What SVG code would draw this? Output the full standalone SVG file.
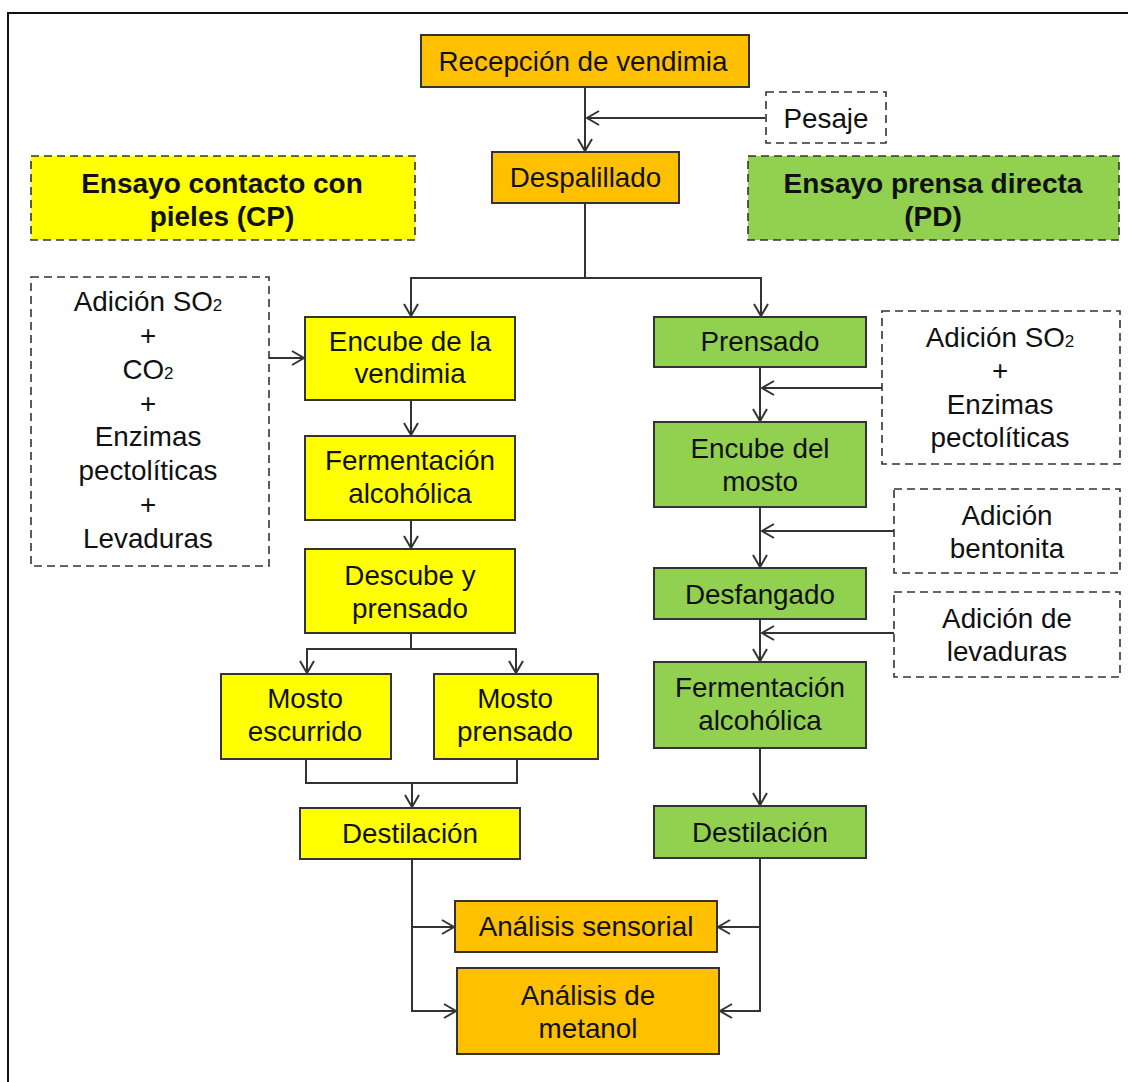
<svg xmlns="http://www.w3.org/2000/svg" width="1128" height="1082" viewBox="0 0 1128 1082">
<defs>
<marker id="arr" markerUnits="userSpaceOnUse" markerWidth="30" markerHeight="30" viewBox="-15 -15 30 30" refX="0" refY="0" orient="auto">
<path d="M-12,-7 L0,0 L-12,7" fill="none" stroke="#333" stroke-width="2"/>
</marker>
</defs>
<style>
text{font-family:"Liberation Sans",Arial,sans-serif;font-size:27.8px;fill:#111;text-anchor:middle}
.b{font-weight:bold;font-size:28px}
.box{stroke:#333;stroke-width:2}
.or{fill:#FFC000}
.ye{fill:#FFFF00}
.gr{fill:#92D050}
.dash{fill:#fff;stroke:#333;stroke-width:1.6;stroke-dasharray:8 5}
.dashy{fill:#FFFF00;stroke:#333;stroke-width:1.6;stroke-dasharray:8 5}
.dashg{fill:#92D050;stroke:#333;stroke-width:1.6;stroke-dasharray:8 5}
.c{fill:none;stroke:#333;stroke-width:2}
.sub{font-size:17px}
</style>
<rect width="1128" height="1082" fill="#fff"/>
<rect x="8" y="13" width="1140" height="1100" fill="none" stroke="#111" stroke-width="2"/>

<g id="connectors">
<path class="c" d="M585,87 V151" marker-end="url(#arr)"/>
<path class="c" d="M765,118 H587" marker-end="url(#arr)"/>
<path class="c" d="M585,203 V278 H411 V316" marker-end="url(#arr)"/>
<path class="c" d="M585,278 H761 V316" marker-end="url(#arr)"/>
<path class="c" d="M269,358 H304" marker-end="url(#arr)"/>
<path class="c" d="M411,400 V435" marker-end="url(#arr)"/>
<path class="c" d="M411,520 V548" marker-end="url(#arr)"/>
<path class="c" d="M411,633 V649 H307 V673" marker-end="url(#arr)"/>
<path class="c" d="M411,649 H516 V673" marker-end="url(#arr)"/>
<path class="c" d="M306,759 V783 H517 V759"/>
<path class="c" d="M412,783 V807" marker-end="url(#arr)"/>
<path class="c" d="M412,859 V1011 H456" marker-end="url(#arr)"/>
<path class="c" d="M412,927 H454" marker-end="url(#arr)"/>
<path class="c" d="M760,367 V421" marker-end="url(#arr)"/>
<path class="c" d="M882,388 H762" marker-end="url(#arr)"/>
<path class="c" d="M760,507 V567" marker-end="url(#arr)"/>
<path class="c" d="M894,531 H762" marker-end="url(#arr)"/>
<path class="c" d="M760,619 V661" marker-end="url(#arr)"/>
<path class="c" d="M894,633 H762" marker-end="url(#arr)"/>
<path class="c" d="M760,748 V805" marker-end="url(#arr)"/>
<path class="c" d="M760,858 V1011 H720" marker-end="url(#arr)"/>
<path class="c" d="M760,927 H718" marker-end="url(#arr)"/>
</g>

<g id="recepcion"><rect class="box or" x="421" y="35" width="328" height="52"/><text x="583" y="71">Recepción de vendimia</text></g>
<g id="pesaje"><rect class="dash" x="766" y="92" width="120" height="51"/><text x="826" y="128">Pesaje</text></g>
<g id="despalillado"><rect class="box or" x="492" y="152" width="187" height="51"/><text x="585.5" y="187">Despalillado</text></g>
<g id="ensayo-cp"><rect class="dashy" x="31" y="156" width="384" height="84"/><text class="b" x="222" y="193">Ensayo contacto con</text><text class="b" x="222" y="226">pieles (CP)</text></g>
<g id="ensayo-pd"><rect class="dashg" x="748" y="156" width="371" height="84"/><text class="b" x="933" y="193">Ensayo prensa directa</text><text class="b" x="933" y="226">(PD)</text></g>

<g id="aditivos-cp"><rect class="dash" x="31" y="277" width="238" height="289"/>
<text x="148" y="311">Adición SO<tspan class="sub">2</tspan></text>
<text x="148" y="345">+</text>
<text x="148" y="379">CO<tspan class="sub">2</tspan></text>
<text x="148" y="413">+</text>
<text x="148" y="446">Enzimas</text>
<text x="148" y="480">pectolíticas</text>
<text x="148" y="514">+</text>
<text x="148" y="548">Levaduras</text>
</g>
<g id="encube-vendimia"><rect class="box ye" x="305" y="317" width="210" height="83"/><text x="410" y="351">Encube de la</text><text x="410" y="383">vendimia</text></g>
<g id="fermentacion-cp"><rect class="box ye" x="305" y="436" width="210" height="84"/><text x="410" y="470">Fermentación</text><text x="410" y="503">alcohólica</text></g>
<g id="descube"><rect class="box ye" x="305" y="549" width="210" height="84"/><text x="410" y="585">Descube y</text><text x="410" y="618">prensado</text></g>
<g id="mosto-escurrido"><rect class="box ye" x="221" y="674" width="170" height="85"/><text x="305" y="708">Mosto</text><text x="305" y="741">escurrido</text></g>
<g id="mosto-prensado"><rect class="box ye" x="434" y="674" width="164" height="85"/><text x="515" y="708">Mosto</text><text x="515" y="741">prensado</text></g>
<g id="destilacion-cp"><rect class="box ye" x="300" y="808" width="220" height="51"/><text x="410" y="843">Destilación</text></g>

<g id="prensado"><rect class="box gr" x="654" y="317" width="212" height="50"/><text x="760" y="351">Prensado</text></g>
<g id="aditivos-pd"><rect class="dash" x="882" y="311" width="238" height="153"/>
<text x="1000" y="347">Adición SO<tspan class="sub">2</tspan></text>
<text x="1000" y="380">+</text>
<text x="1000" y="414">Enzimas</text>
<text x="1000" y="447">pectolíticas</text>
</g>
<g id="encube-mosto"><rect class="box gr" x="654" y="422" width="212" height="85"/><text x="760" y="458">Encube del</text><text x="760" y="491">mosto</text></g>
<g id="bentonita"><rect class="dash" x="894" y="489" width="226" height="84"/><text x="1007" y="525">Adición</text><text x="1007" y="558">bentonita</text></g>
<g id="desfangado"><rect class="box gr" x="654" y="568" width="212" height="51"/><text x="760" y="604">Desfangado</text></g>
<g id="levaduras"><rect class="dash" x="894" y="592" width="226" height="85"/><text x="1007" y="628">Adición de</text><text x="1007" y="661">levaduras</text></g>
<g id="fermentacion-pd"><rect class="box gr" x="654" y="662" width="212" height="86"/><text x="760" y="697">Fermentación</text><text x="760" y="730">alcohólica</text></g>
<g id="destilacion-pd"><rect class="box gr" x="654" y="806" width="212" height="52"/><text x="760" y="842">Destilación</text></g>

<g id="analisis-sensorial"><rect class="box or" x="455" y="901" width="262" height="51"/><text x="586" y="936">Análisis sensorial</text></g>
<g id="analisis-metanol"><rect class="box or" x="457" y="968" width="262" height="86"/><text x="588" y="1005">Análisis de</text><text x="588" y="1038">metanol</text></g>
</svg>
